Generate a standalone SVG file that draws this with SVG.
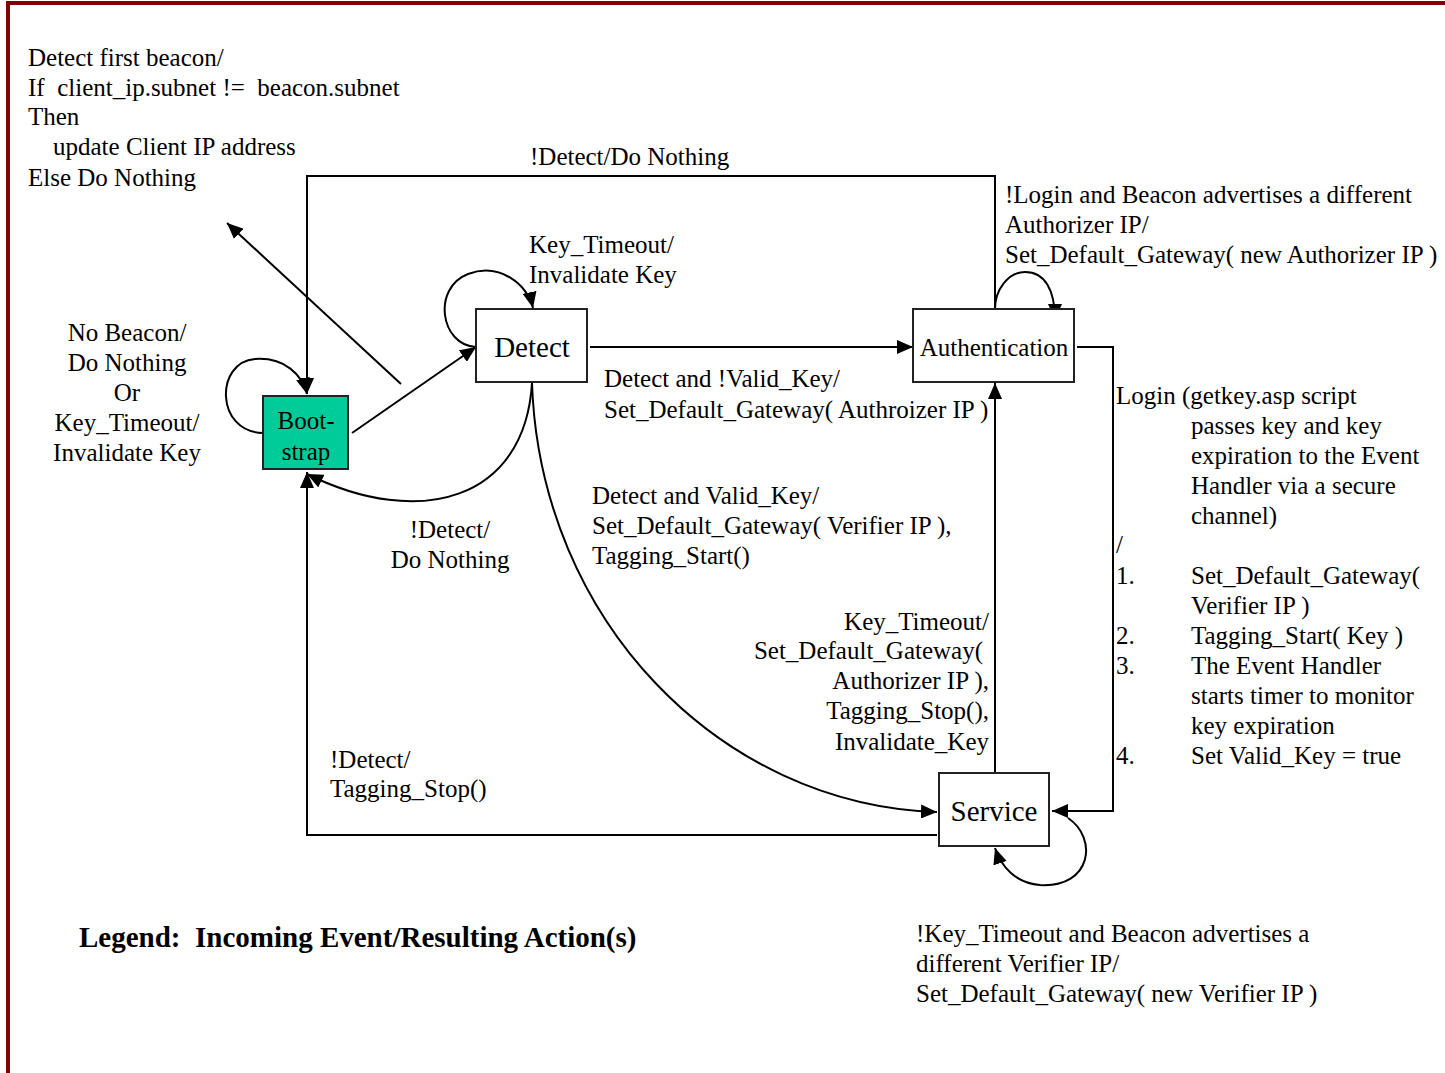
<svg xmlns="http://www.w3.org/2000/svg" width="1445" height="1073" viewBox="0 0 1445 1073" font-family="'Liberation Serif', 'Times New Roman', serif">
<defs>
<style>
text{font-family:'Liberation Serif', 'Times New Roman', serif;font-size:25px;fill:#000}
.node{fill:#fff;stroke:#222;stroke-width:2}
.boot{fill:#00cc99}
.big{font-size:29px}
.c{stroke:#000;stroke-width:2;fill:none}
.mid{text-anchor:middle}
.end{text-anchor:end}
.legend{font-weight:bold;font-size:29px}
</style>
<marker id="arr" viewBox="0 0 16 14" refX="16" refY="7" markerWidth="16" markerHeight="14" orient="auto" markerUnits="userSpaceOnUse"><path d="M0,0 L16,7 L0,14 z" fill="#000"/></marker>
</defs>
<rect width="1445" height="1073" fill="#fff"/>
<g id="border" stroke="#800000" stroke-width="4" fill="none">
<line x1="6" y1="3" x2="1445" y2="3"/>
<line x1="8" y1="1" x2="8" y2="1073"/>
</g>

<g id="connectors" class="c">
<path class="c" d="M995,309 V176 H307 V394" marker-end="url(#arr)"/>
<path class="c" d="M937,835 H307 V472" marker-end="url(#arr)"/>
<path class="c" d="M532,383 C525,500 420,530 307,474" marker-end="url(#arr)"/>
<path class="c" d="M532,383 C540,620 720,805 937,812" marker-end="url(#arr)"/>
<path class="c" d="M590,347 H913" marker-end="url(#arr)"/>
<path class="c" d="M352,433 L476,347" marker-end="url(#arr)"/>
<path class="c" d="M401,384 L227,223" marker-end="url(#arr)"/>
<path class="c" d="M263,433 C215,432 215,362 255,359 C285,357 302,375 307,394" marker-end="url(#arr)"/>
<path class="c" d="M476,347 C440,345 432,288 468,274 C500,262 528,285 533,308" marker-end="url(#arr)"/>
<path class="c" d="M995,309 C995,290 1008,272 1025,272 C1045,272 1055,290 1055,320" marker-end="url(#arr)"/>
<path class="c" d="M1077,347 H1113 V811 H1052" marker-end="url(#arr)"/>
<path class="c" d="M995,773 V383" marker-end="url(#arr)"/>
<path class="c" d="M1068,818 C1098,838 1092,888 1040,885 C1015,883 1001,866 995,848" marker-end="url(#arr)"/>
</g>

<g id="bootstrap">
<rect class="node boot" x="263" y="396" width="85" height="73"/>
<text class="mid" x="306" y="429">Boot-</text>
<text class="mid" x="306" y="460">strap</text>
</g>
<g id="detect">
<rect class="node" x="476" y="309" width="111" height="73"/>
<text class="mid big" x="532" y="357">Detect</text>
</g>
<g id="authentication">
<rect class="node" x="913" y="309" width="161" height="73"/>
<text class="mid" x="994" y="356">Authentication</text>
</g>
<g id="service">
<rect class="node" x="939" y="773" width="110" height="73"/>
<text class="mid big" x="994" y="821">Service</text>
</g>

<g id="labels">
<text x="28" y="66">Detect first beacon/</text>
<text x="28" y="96" xml:space="preserve">If  client_ip.subnet !=  beacon.subnet</text>
<text x="28" y="125">Then</text>
<text x="53" y="155">update Client IP address</text>
<text x="28" y="186">Else Do Nothing</text>

<text x="530" y="165">!Detect/Do Nothing</text>

<text x="1005" y="203">!Login and Beacon advertises a different</text>
<text x="1005" y="233">Authorizer IP/</text>
<text x="1005" y="263">Set_Default_Gateway( new Authorizer IP )</text>

<text x="529" y="253">Key_Timeout/</text>
<text x="529" y="283">Invalidate Key</text>

<text class="mid" x="127" y="341">No Beacon/</text>
<text class="mid" x="127" y="371">Do Nothing</text>
<text class="mid" x="127" y="401">Or</text>
<text class="mid" x="127" y="431">Key_Timeout/</text>
<text class="mid" x="127" y="461">Invalidate Key</text>

<text x="604" y="387">Detect and !Valid_Key/</text>
<text x="604" y="418">Set_Default_Gateway( Authroizer IP )</text>

<text x="1116" y="404">Login (getkey.asp script</text>
<text x="1191" y="434">passes key and key</text>
<text x="1191" y="464">expiration to the Event</text>
<text x="1191" y="494">Handler via a secure</text>
<text x="1191" y="524">channel)</text>
<text x="1116" y="553">/</text>
<text x="1116" y="584">1.</text>
<text x="1191" y="584">Set_Default_Gateway(</text>
<text x="1191" y="614">Verifier IP )</text>
<text x="1116" y="644">2.</text>
<text x="1191" y="644">Tagging_Start( Key )</text>
<text x="1116" y="674">3.</text>
<text x="1191" y="674">The Event Handler</text>
<text x="1191" y="704">starts timer to monitor</text>
<text x="1191" y="734">key expiration</text>
<text x="1116" y="764">4.</text>
<text x="1191" y="764">Set Valid_Key = true</text>

<text x="592" y="504">Detect and Valid_Key/</text>
<text x="592" y="534">Set_Default_Gateway( Verifier IP ),</text>
<text x="592" y="564">Tagging_Start()</text>

<text class="mid" x="450" y="538">!Detect/</text>
<text class="mid" x="450" y="568">Do Nothing</text>

<text class="end" x="989" y="630">Key_Timeout/</text>
<text class="end" x="983" y="659">Set_Default_Gateway(</text>
<text class="end" x="989" y="689">Authorizer IP ),</text>
<text class="end" x="989" y="719">Tagging_Stop(),</text>
<text class="end" x="989" y="750">Invalidate_Key</text>

<text x="330" y="768">!Detect/</text>
<text x="330" y="797">Tagging_Stop()</text>

<text class="legend" x="79" y="947" xml:space="preserve">Legend:  Incoming Event/Resulting Action(s)</text>

<text x="916" y="942">!Key_Timeout and Beacon advertises a</text>
<text x="916" y="972">different Verifier IP/</text>
<text x="916" y="1002">Set_Default_Gateway( new Verifier IP )</text>
</g>
</svg>
